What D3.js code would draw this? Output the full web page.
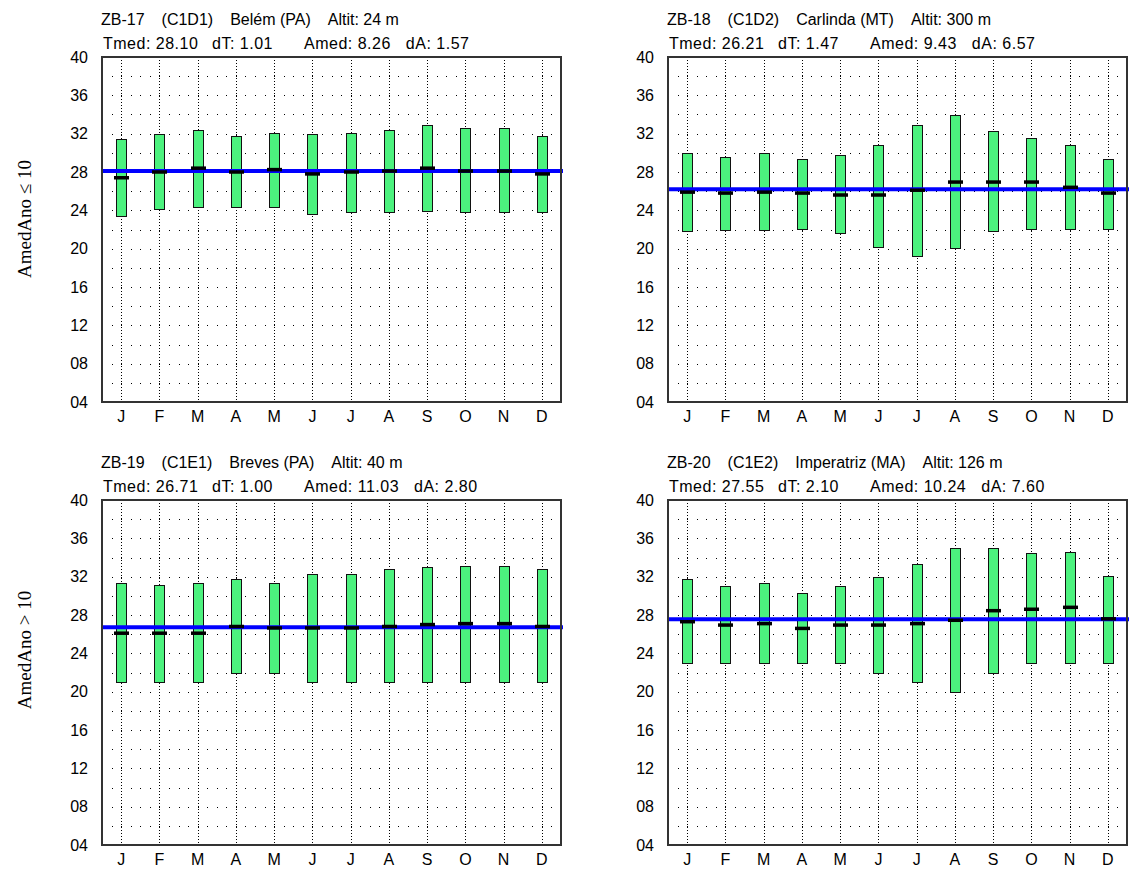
<!DOCTYPE html>
<html><head><meta charset="utf-8">
<script src="https://cdn.jsdelivr.net/npm/d3@7"></script>
<style>
body{margin:0;background:#fff;}
svg{display:block;font-family:"Liberation Sans",Arial,sans-serif;}
</style>
</head><body>
<svg id="c" width="1129" height="876"></svg>
<script>
// ---------- data ----------
const months = ["J","F","M","A","M","J","J","A","S","O","N","D"];
const yTicks = [4,8,12,16,20,24,28,32,36,40];
const gridLevels = [6,8,10,12,14,16,18,20,22,24,26,28,30,32,34,36,38];

const zb17High = [31.4,32.0,32.4,31.8,32.1,32.0,32.1,32.4,32.95,32.6,32.6,31.8];
const zb17Low  = [23.4,24.1,24.4,24.3,24.4,23.6,23.8,23.8,23.95,23.8,23.8,23.8];
const zb17Mean = [27.4,28.0,28.4,28.0,28.25,27.8,28.0,28.1,28.4,28.1,28.1,27.8];

const zb18High = [30.0,29.6,30.0,29.4,29.8,30.8,32.9,33.9,32.3,31.6,30.8,29.4];
const zb18Low  = [21.8,21.9,21.9,22.1,21.6,20.2,19.2,20.1,21.8,22.1,22.1,22.1];
const zb18Mean = [25.9,25.8,25.9,25.8,25.6,25.6,26.1,26.95,26.95,26.95,26.4,25.8];

const zb19High = [31.3,31.1,31.3,31.8,31.3,32.3,32.3,32.8,33.0,33.1,33.1,32.8];
const zb19Low  = [21.0,21.0,21.0,22.0,22.0,21.0,21.0,21.0,21.0,21.0,21.0,21.0];
const zb19Mean = [26.1,26.1,26.1,26.8,26.65,26.65,26.65,26.8,27.0,27.1,27.1,26.8];

const zb20High = [31.8,31.0,31.3,30.3,31.0,32.0,33.3,35.0,35.0,34.5,34.6,32.1];
const zb20Low  = [23.0,23.0,23.0,23.0,23.0,22.0,21.0,20.0,22.0,23.0,23.0,23.0];
const zb20Mean = [27.3,26.95,27.1,26.6,26.95,26.95,27.1,27.45,28.45,28.6,28.8,27.6];

const tmedValues = [28.10, 26.21, 26.71, 27.55];
const titleLine1 = [
  ["ZB-17","(C1D1)","Belém (PA)","Altit: 24 m"],
  ["ZB-18","(C1D2)","Carlinda (MT)","Altit: 300 m"],
  ["ZB-19","(C1E1)","Breves (PA)","Altit: 40 m"],
  ["ZB-20","(C1E2)","Imperatriz (MA)","Altit: 126 m"]
];
const titleLine2 = [
  ["Tmed: 28.10","dT: 1.01","Amed: 8.26","dA: 1.57"],
  ["Tmed: 26.21","dT: 1.47","Amed: 9.43","dA: 6.57"],
  ["Tmed: 26.71","dT: 1.00","Amed: 11.03","dA: 2.80"],
  ["Tmed: 27.55","dT: 2.10","Amed: 10.24","dA: 7.60"]
];
const rowLabels = ["AmedAno \u2264 10","AmedAno > 10"];

// ---------- layout ----------
const panelX = [102, 668];
const panelY = [57, 500];
const PW = 459, PH = 345;
const highs = [zb17High, zb18High, zb19High, zb20High];
const lows  = [zb17Low, zb18Low, zb19Low, zb20Low];
const means = [zb17Mean, zb18Mean, zb19Mean, zb20Mean];

const svg = d3.select("#c");
const GREEN = "#4cf27e", BLUE = "#0000ff";
const snap = v => Math.round(v) + 0.5;

for (let p = 0; p < 4; p++) {
  const x0 = panelX[p % 2], y0 = panelY[Math.floor(p / 2)];
  const g = svg.append("g");
  const x = d3.scaleBand().domain(d3.range(12)).range([x0, x0 + PW]);
  const bw = x.bandwidth();
  const cx = i => x(i) + bw / 2;
  const y = d3.scaleLinear().domain([4, 40]).range([y0 + PH, y0]);

  // horizontal dotted rows (crisp 1px dots)
  const step = bw / 4;
  const dotXs = d3.range(1, 48).map(k => Math.round(x0 + k * step));
  gridLevels.forEach(lv => {
    g.append("g").selectAll("rect").data(dotXs).join("rect")
      .attr("x", d => d).attr("y", Math.round(y(lv)))
      .attr("width", 1).attr("height", 1).attr("fill", "#000");
  });
  // vertical dotted columns
  g.selectAll(".vcol").data(d3.range(12)).join("line")
    .attr("x1", i => snap(cx(i))).attr("x2", i => snap(cx(i)))
    .attr("y1", y0 + 3).attr("y2", y0 + PH - 1)
    .attr("stroke", "#000").attr("stroke-width", 1)
    .attr("stroke-dasharray", "1,2");

  // bars
  g.selectAll(".bar").data(d3.range(12)).join("rect")
    .attr("x", i => Math.round(cx(i)) - 5 + 0.5)
    .attr("width", 10)
    .attr("y", i => Math.round(y(highs[p][i])) + 0.5)
    .attr("height", i => Math.round(y(lows[p][i])) - Math.round(y(highs[p][i])))
    .attr("fill", GREEN).attr("stroke", "#111").attr("stroke-width", 1);

  // blue mean line
  g.append("line")
    .attr("x1", x0).attr("x2", x0 + PW + 2)
    .attr("y1", y(tmedValues[p])).attr("y2", y(tmedValues[p]))
    .attr("stroke", BLUE).attr("stroke-width", 4);

  // monthly mean markers
  g.selectAll(".mk").data(d3.range(12)).join("rect")
    .attr("x", i => Math.round(cx(i)) - 7)
    .attr("width", 15)
    .attr("y", i => y(means[p][i]) - 1.75)
    .attr("height", 3.5)
    .attr("fill", "#000");

  // frame
  g.append("rect")
    .attr("x", x0).attr("y", y0).attr("width", PW).attr("height", PH)
    .attr("fill", "none").attr("stroke", "#333").attr("stroke-width", 2);

  // axes
  const ya = d3.axisLeft(y).tickValues(yTicks).tickFormat(d3.format("02d")).tickSize(0).tickPadding(14);
  const yg = g.append("g").attr("transform", `translate(${x0},0)`).call(ya);
  yg.select(".domain").remove();
  yg.selectAll("text").attr("font-size", 16).attr("font-family", "Liberation Sans, Arial, sans-serif").attr("fill", "#000");

  const xa = d3.axisBottom(x).tickFormat(i => months[i]).tickSize(0).tickPadding(9);
  const xg = g.append("g").attr("transform", `translate(0,${y0 + PH})`).call(xa);
  xg.select(".domain").remove();
  xg.selectAll("text").attr("font-size", 16).attr("font-family", "Liberation Sans, Arial, sans-serif").attr("fill", "#000");

  // title line 1 (sequential with gaps)
  let cur = x0 - 1;
  titleLine1[p].forEach(t => {
    const tx = g.append("text").attr("x", cur).attr("y", y0 - 32)
      .attr("font-size", 16).attr("fill", "#000").text(t);
    cur += tx.node().getComputedTextLength() + 17;
  });
  // title line 2 (tab-like columns)
  const l2 = titleLine2[p];
  const mk = (t, xx) => g.append("text").attr("x", xx).attr("y", y0 - 8)
    .attr("font-size", 16).attr("letter-spacing", 0.5).attr("fill", "#000").text(t);
  mk(l2[0], x0 + 1);
  mk(l2[1], x0 + 110);
  const am = mk(l2[2], x0 + 202);
  mk(l2[3], x0 + 202 + am.node().getComputedTextLength() + 15);
}

// row labels
rowLabels.forEach((t, r) => {
  svg.append("text")
    .attr("transform", `translate(24,${[219, 650][r]}) rotate(-90)`)
    .attr("text-anchor", "middle").attr("dominant-baseline", "central")
    .attr("font-family", "Liberation Serif, Times New Roman, serif")
    .attr("font-size", 19).attr("fill", "#000").text(t);
});
</script>
</body></html>
